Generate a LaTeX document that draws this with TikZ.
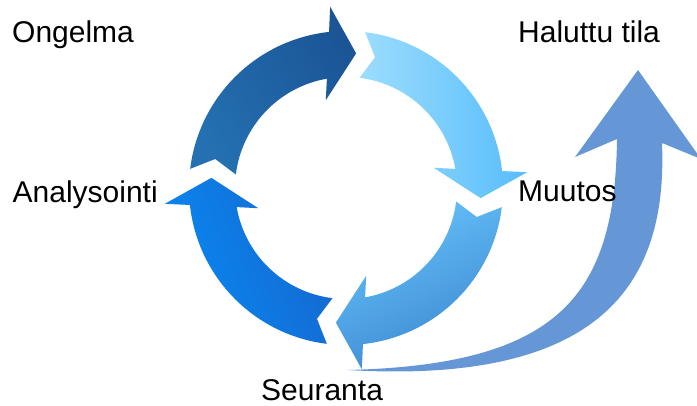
\documentclass[tikz,border=0pt]{standalone}
\usepackage{fontspec}
\setmainfont{Liberation Sans}

\definecolor{darkA}{HTML}{2470B1}
\definecolor{darkB}{HTML}{1B5596}
\definecolor{skyA}{HTML}{9CDDFD}
\definecolor{skyB}{HTML}{58BDFB}
\definecolor{midA}{HTML}{66C3FA}
\definecolor{midB}{HTML}{3C86D0}
\definecolor{brightA}{HTML}{0A88F3}
\definecolor{brightB}{HTML}{1468CE}
\definecolor{goalblue}{HTML}{6597D6}

% One segment of the cycle: #1 = angle of the notched tail, #2 = fill style.
% Shaft between radii 111pt and 157pt, head reaching from 90pt to 182pt.
\newcommand\cyclearrow[2]{%
  \path[#2] ({#1}:157pt)
    arc[start angle={#1}, end angle={#1-76.8}, radius=157pt]
    -- ({#1-78}:182pt) -- ({#1-87.3}:135pt) -- ({#1-70}:90pt)
    -- ({#1-73.1}:111pt)
    arc[start angle={#1-73.1}, end angle={#1}, radius=111pt]
    -- ({#1-5.5}:134pt) -- cycle;}

\begin{document}
\begin{tikzpicture}[
  caption/.style={anchor=base west, inner sep=0pt,
    font=\fontsize{30}{36}\selectfont},
  seg dark/.style={left color=darkA, right color=darkB, shading angle=120},
  seg sky/.style={left color=skyA, right color=skyB},
  seg mid/.style={top color=midA, bottom color=midB, shading angle=25},
  seg bright/.style={left color=brightA, right color=brightB, shading angle=110},
  goal/.style={fill=goalblue}
]
\useasboundingbox (0,0) rectangle (697pt,405pt);
\clip (0,0) rectangle (697pt,405pt);

% the four-step cycle
\begin{scope}[shift={(346pt,217pt)}]
  \cyclearrow{173}{seg dark}
  \cyclearrow{83}{seg sky}
  \cyclearrow{-7}{seg mid}
  \cyclearrow{-97}{seg bright}
\end{scope}

% sweeping arrow out of the cycle towards the goal
\path[goal] (347pt,35pt)
  .. controls (560pt,40pt) and (615pt,110pt) .. (617pt,266pt)
  -- (575pt,248pt) -- (638pt,335pt) -- (701pt,246pt) -- (662pt,262pt)
  .. controls (668pt,120pt) and (600pt,20pt) .. (347pt,35pt) -- cycle;

% captions
\node[caption] (ongelma)  at (12pt,362pt)  {Ongelma};
\node[caption] (haluttu)  at (518pt,362pt) {Haluttu tila};
\node[caption] (analyysi) at (12.5pt,202pt) {Analysointi};
\node[caption] (muutos)   at (518pt,203pt) {Muutos};
\node[caption] (seuranta) at (261pt,5pt)   {Seuranta};
\end{tikzpicture}
\end{document}
